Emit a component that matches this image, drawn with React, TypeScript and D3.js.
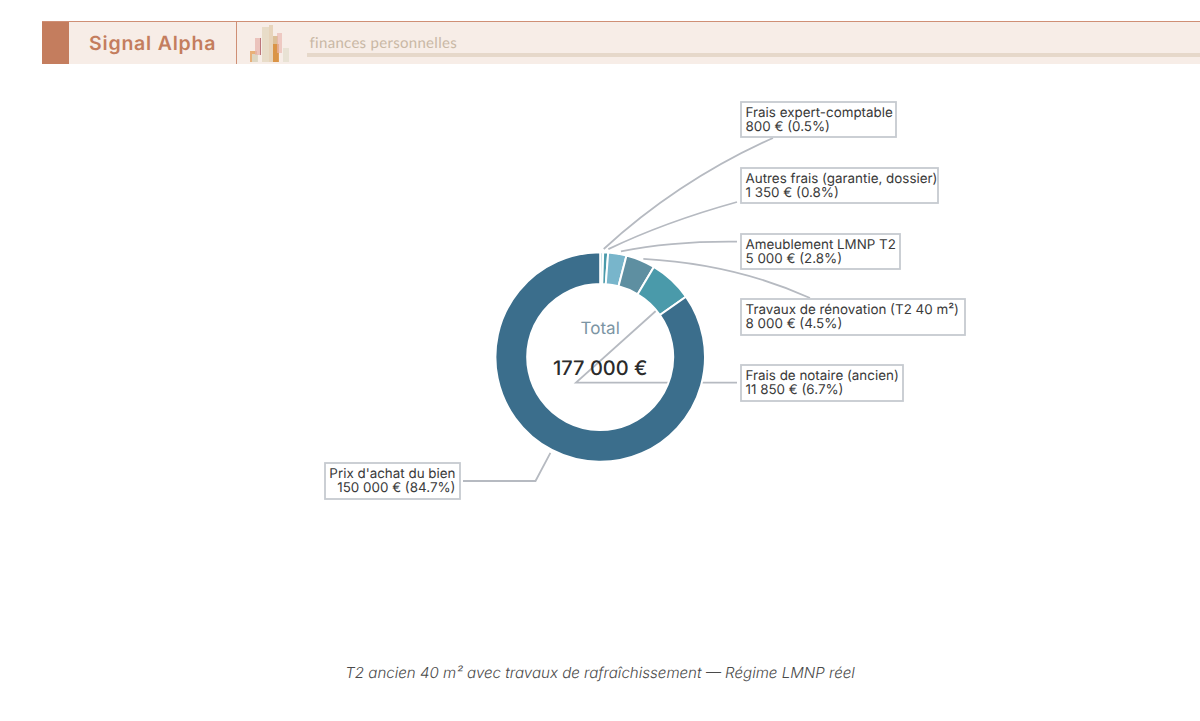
import { useMemo } from 'react';
import * as d3 from 'd3';

const categories = [
  'Frais expert-comptable',
  'Autres frais (garantie, dossier)',
  'Ameublement LMNP T2',
  'Travaux de rénovation (T2 40 m²)',
  'Frais de notaire (ancien)',
  "Prix d'achat du bien",
];
const amounts = [800, 1350, 5000, 8000, 11850, 150000];
const amountLabels = ['800 €', '1 350 €', '5 000 €', '8 000 €', '11 850 €', '150 000 €'];
const shareLabels = ['0.5%', '0.8%', '2.8%', '4.5%', '6.7%', '84.7%'];
const sliceColors = ['#a9d3dc', '#4a9aaa', '#78b5cb', '#5e8fa1', '#4a9aaa', '#3b6e8c'];
const totalLabel = '177 000 €';
const caption = 'T2 ancien 40 m² avec travaux de rafraîchissement — Régime LMNP réel';

// label box placement, one per category
const BOXES = [
  { x: 741, y: 102, w: 155, h: 35 },
  { x: 741, y: 168, w: 197, h: 35 },
  { x: 741, y: 234, w: 159, h: 35 },
  { x: 741, y: 299, w: 224, h: 36 },
  { x: 741, y: 365, w: 162, h: 36 },
  { x: 325, y: 463, w: 135, h: 36 },
];

const CX = 600.2;
const CY = 357;
const R_OUT = 104.8;
const R_IN = 73;
const LINE = '#b6bac1';

// small bars of the header logo: x, top, width, bottom, fill, opacity
const LOGO = [
  { x: 250, y: 51, w: 7, b: 62, c: '#e08f3e', o: 0.65 },
  { x: 252, y: 54, w: 6, b: 62, c: '#dcd8c6', o: 0.95 },
  { x: 255, y: 38, w: 6, b: 55, c: '#e7b4ad', o: 0.75 },
  { x: 260, y: 38, w: 1, b: 55, c: '#a8555f', o: 0.7 },
  { x: 262, y: 27, w: 7, b: 62, c: '#e8dcc8', o: 1 },
  { x: 269, y: 25, w: 4, b: 62, c: '#e6d3b8', o: 0.95 },
  { x: 273, y: 36, w: 5, b: 62, c: '#d8b98e', o: 0.9 },
  { x: 273, y: 44, w: 6, b: 62, c: '#d98a32', o: 0.8 },
  { x: 277, y: 33, w: 5, b: 53, c: '#e9b5ad', o: 0.65 },
  { x: 283, y: 48, w: 6, b: 62, c: '#e8e2d4', o: 1 },
];

export default function App() {
  const arcs = useMemo(() => d3.pie<number>().sort(null).value((d) => d)(amounts), []);
  const arc = d3.arc<d3.PieArcDatum<number>>().innerRadius(R_IN).outerRadius(R_OUT);

  // point just outside the ring at the middle of slice i
  const outer = (i: number, r = 108, dx = 0, dy = 0): [number, number] => {
    const a = (arcs[i].startAngle + arcs[i].endAngle) / 2;
    return [CX + r * Math.sin(a) + dx, CY - r * Math.cos(a) + dy];
  };

  const curve = (from: [number, number], ctrl: [number, number], to: [number, number]) => {
    const p = d3.path();
    p.moveTo(from[0], from[1]);
    p.quadraticCurveTo(ctrl[0], ctrl[1], to[0], to[1]);
    return p.toString();
  };
  const poly = d3.line();

  const leaders = [
    curve(outer(0, 108, 2, 0), [679, 180], [773, 138]),
    curve(outer(1, 108, 2.5, 0), [665, 222], [737, 202]),
    curve(outer(2, 108, 3, 1), [672, 241], [737, 241.7]),
    curve(outer(3, 108, 1.5, 1.5), [735, 264], [810, 298]),
    poly([outer(4, 86, 6, 9), [576, 382.6], [737, 382.6]]) as string,
    poly([outer(5), [535.5, 481], [463, 481]]) as string,
  ];

  return (
    <svg viewBox="0 0 1200 721" textRendering="geometricPrecision" style={{ position: 'absolute', left: 0, top: 0, width: 1200, height: 721 }}>
      {/* Header band */}
      <rect x={42} y={22} width={1158} height={42} fill="#f7ede7" />
      <rect x={42} y={21} width={1158} height={1} fill="#cf8f75" />
      <rect x={42} y={22} width={27} height={42} fill="#c47d5e" />
      <rect x={236} y={22} width={1} height={42} fill="#cf8f75" />
      <text x={89} y={50} fontFamily="Inter" fontWeight={600} fontSize={19.5} letterSpacing={0.8} fill="#c47d5e">Signal Alpha</text>
      <text x={309.5} y={48} fontFamily="Lato" fontSize={15} letterSpacing={0.3} fill="#c9b8a5">finances personnelles</text>
      <rect x={307} y={53} width={893} height={4} fill="#e6d8ca" />
      {LOGO.map((b, i) => (
        <rect key={i} x={b.x} y={b.y} width={b.w} height={b.b - b.y} fill={b.c} opacity={b.o} />
      ))}

      {/* Leader lines go under the ring */}
      <g fill="none" stroke={LINE} strokeWidth={1.8}>
        {leaders.map((d, i) => <path key={i} d={d} />)}
      </g>

      <g transform={`translate(${CX},${CY})`}>
        {arcs.map((a, i) => (
          <path key={i} d={arc(a) as string} fill={sliceColors[i]} stroke="#fff" strokeWidth={2} />
        ))}
      </g>

      <text x={CX} y={334} textAnchor="middle" fontFamily="Inter" fontSize={17} fill="#7c95a4">Total</text>
      <text x={CX} y={374.5} textAnchor="middle" fontFamily="Inter" fontWeight={500} fontSize={20} fill="#2b2b2b">{totalLabel}</text>

      {/* Labels */}
      {categories.map((c, i) => {
        const b = BOXES[i];
        const left = i < 5;
        const tx = left ? b.x + 4.5 : b.x + b.w - 4.5;
        return (
          <g key={c} fontFamily="Inter" fontSize={13.4} fill="#3a3a3a">
            <rect x={b.x} y={b.y} width={b.w} height={b.h} fill="#fff" stroke="#c6cad0" strokeWidth={1.8} />
            <text x={tx} y={b.y + 14.5} textAnchor={left ? 'start' : 'end'}>{c}</text>
            <text x={tx} y={b.y + 29} textAnchor={left ? 'start' : 'end'}>{`${amountLabels[i]} (${shareLabels[i]})`}</text>
          </g>
        );
      })}

      <text x={600} y={678} textAnchor="middle" fontFamily="Inter" fontWeight={300} fontStyle="italic" fontSize={15.1} fill="#4a4a4a">{caption}</text>
    </svg>
  );
}
